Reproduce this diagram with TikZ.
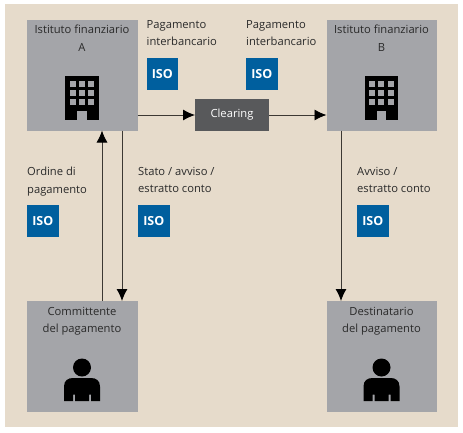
\documentclass[tikz,border=0pt]{standalone}
\usepackage{fontspec}
\setmainfont{Open Sans}
\usetikzlibrary{arrows.meta}
\definecolor{bgc}{HTML}{E6DBCB}
\definecolor{boxc}{HTML}{A4A5A9}
\definecolor{clr}{HTML}{58595B}
\definecolor{isoc}{HTML}{005F9E}
\definecolor{txt}{HTML}{2A2A2A}
\definecolor{linec}{HTML}{3C3833}
\tikzset{
  x=1pt,y=-1pt,
  actor/.style={fill=boxc,minimum width=110.5pt,minimum height=110.5pt,inner sep=0pt,outer sep=0pt,anchor=north west},
  isobox/.style={fill=isoc,text=white,font=\fontsize{12.5}{13}\selectfont\bfseries,minimum width=31.5pt,minimum height=31.5pt,inner sep=0pt,outer sep=0pt,anchor=north west},
  lab/.style={text=txt,font=\fontsize{11.2}{17.4}\selectfont,align=left,anchor=north west,inner sep=0pt},
  boxlab/.style={text=txt,font=\fontsize{11.2}{17.4}\selectfont,align=center,anchor=north,inner sep=0pt},
  conn/.style={draw=linec,line width=0.9pt,-{Latex[length=12pt,width=11pt,black]}},
}
\newcommand{\buildingicon}[2]{%
  \begin{scope}[shift={(#1,#2)}]
    \fill[black] (0,0) rectangle (33.5,44);
    \foreach \cx in {4.5,13.5,23} \foreach \cy in {5,14,23}
      \fill[boxc] (\cx,\cy) rectangle ++(6,6);
    \fill[boxc] (12,35) rectangle (21.5,44);
  \end{scope}}
\newcommand{\personicon}[2]{%
  \begin{scope}[shift={(#1,#2)}]
    \fill[black] (0,0) circle[radius=9];
    \fill[black] (-18,33.5) -- (-18,19) .. controls (-18,13) and (-14,10.5) .. (-9,10.5) -- (9,10.5) .. controls (14,10.5) and (18,13) .. (18,19) -- (18,33.5) -- (9,33.5) -- (9,27) -- (7,27) -- (7,33.5) -- (-7,33.5) -- (-7,27) -- (-9,27) -- (-9,33.5) -- cycle;
  \end{scope}}
\begin{document}
\begin{tikzpicture}
\useasboundingbox (0,0) rectangle (463,432);
\fill[white] (0,0) rectangle (463,432);
\fill[bgc] (5,4) rectangle (458,427);
% boxes
\node[actor] (fa) at (27,20) {};
\node[actor] (fb) at (326.5,20) {};
\node[actor] (pa) at (27,301) {};
\node[actor] (pb) at (326.5,301) {};
\node[fill=clr,text=white,font=\fontsize{11.2}{12}\selectfont,minimum width=74pt,minimum height=31.5pt,inner sep=0pt,outer sep=0pt,anchor=north west] (cl) at (195,99) {Clearing};
% box texts
\node[boxlab] (tfa) at (82,25) {Istituto finanziario\\A};
\node[boxlab] (tfb) at (381.5,25) {Istituto finanziario\\B};
\node[boxlab] (tpa) at (82,307) {Committente\\del pagamento};
\node[boxlab] (tpb) at (381.5,307) {Destinatario\\del pagamento};
% icons
\buildingicon{65}{76}
\buildingicon{364.5}{76}
\personicon{82}{367.5}
\personicon{381.5}{367.5}
% labels
\node[lab] (l1) at (146.5,20) {Pagamento\\interbancario};
\node[lab] (l2) at (246,20) {Pagamento\\interbancario};
\node[lab] (l3) at (27,167) {Ordine di\\pagamento};
\node[lab] (l4) at (138,167) {Stato / avviso /\\estratto conto};
\node[lab] (l5) at (357,167) {Avviso /\\estratto conto};
% ISO
\node[isobox] (i1) at (146.5,58) {ISO};
\node[isobox] (i2) at (246,58) {ISO};
\node[isobox] (i3) at (27,205) {ISO};
\node[isobox] (i4) at (138,205) {ISO};
\node[isobox] (i5) at (357,205) {ISO};
% connector anchors
\coordinate (au) at (102,130.5);
\coordinate (pu) at (102,301);
\coordinate (ad) at (122,130.5);
\coordinate (pd) at (122,301);
\coordinate (bd) at (341,130.5);
\coordinate (qd) at (341,301);
\coordinate (ar) at (137.5,115);
\coordinate (cr) at (269,115);
\coordinate (bl) at (326.5,115);
% connectors
\draw[conn] (pu) -- (au);
\draw[conn] (ad) -- (pd);
\draw[conn] (bd) -- (qd);
\draw[conn] (ar) -- (cl.west |- ar);
\draw[conn] (cr) -- (bl);
\end{tikzpicture}
\end{document}
